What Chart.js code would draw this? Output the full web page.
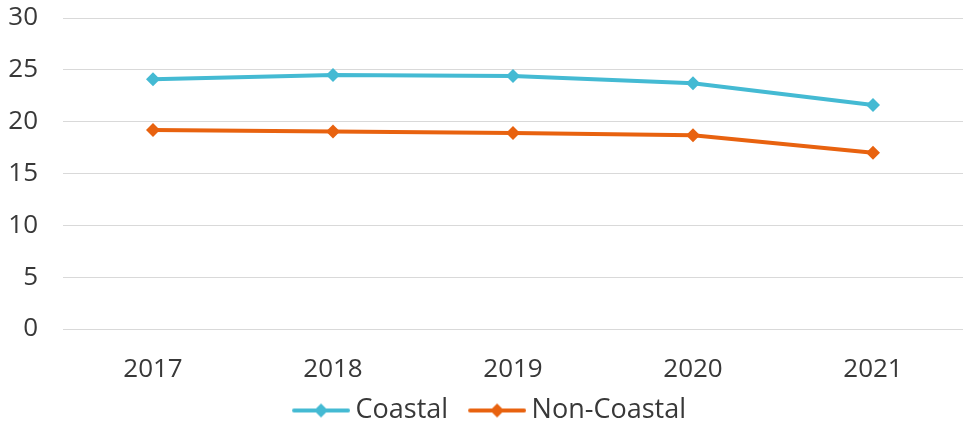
<!DOCTYPE html>
<html>
<head>
<meta charset="utf-8">
<script src="https://cdn.jsdelivr.net/npm/chart.js@4.4.1/dist/chart.umd.min.js"></script>
<style>
html,body{margin:0;padding:0;background:#fff;}
#wrap{width:970px;height:421px;position:relative;}
</style>
</head>
<body>
<div id="wrap"><canvas id="c" width="970" height="421"></canvas></div>
<script>
const categories = ['2017', '2018', '2019', '2020', '2021'];
const coastal = [24.1, 24.5, 24.4, 23.7, 21.6];
const nonCoastal = [19.2, 19.05, 18.9, 18.7, 17.0];
const yTicks = [0, 5, 10, 15, 20, 25, 30];

const COASTAL_COLOR = '#44BAD3';
const NONCOASTAL_COLOR = '#E8620F';
const TEXT_COLOR = '#383838';
const FONT = 'Open Sans';
const FONT_SIZE = 26;

function legendIcon(color) {
  const cv = document.createElement('canvas');
  cv.width = 78; cv.height = 16;
  const ctx = cv.getContext('2d');
  ctx.strokeStyle = color;
  ctx.lineWidth = 4;
  ctx.lineCap = 'round';
  ctx.beginPath();
  ctx.moveTo(22, 8); ctx.lineTo(76, 8);
  ctx.stroke();
  ctx.fillStyle = color;
  ctx.beginPath();
  ctx.moveTo(49, 1); ctx.lineTo(56, 8); ctx.lineTo(49, 15); ctx.lineTo(42, 8);
  ctx.closePath();
  ctx.fill();
  return cv;
}

const icons = [legendIcon(COASTAL_COLOR), legendIcon(NONCOASTAL_COLOR)];

new Chart(document.getElementById('c'), {
  type: 'line',
  data: {
    labels: categories,
    datasets: [
      {
        label: 'Coastal',
        data: coastal,
        borderColor: COASTAL_COLOR,
        backgroundColor: COASTAL_COLOR,
        borderWidth: 4,
        pointStyle: 'rectRot',
        pointRadius: 7,
        pointBorderWidth: 0,
        tension: 0
      },
      {
        label: 'Non-Coastal',
        data: nonCoastal,
        borderColor: NONCOASTAL_COLOR,
        backgroundColor: NONCOASTAL_COLOR,
        borderWidth: 4,
        pointStyle: 'rectRot',
        pointRadius: 7,
        pointBorderWidth: 0,
        tension: 0
      }
    ]
  },
  options: {
    responsive: false,
    animation: false,
    devicePixelRatio: 1,
    layout: { padding: { top: 18, right: 4, left: 0, bottom: -13 } },
    plugins: {
      tooltip: { enabled: false },
      legend: {
        position: 'bottom',
        labels: {
          usePointStyle: true,
          pointStyleWidth: 62,
          padding: 8,
          color: TEXT_COLOR,
          font: { family: FONT, size: 27 },
          generateLabels(chart) {
            return chart.data.datasets.map((ds, i) => ({
              text: ds.label,
              pointStyle: icons[i],
              fillStyle: ds.borderColor,
              strokeStyle: ds.borderColor,
              lineWidth: 0,
              fontColor: TEXT_COLOR,
              hidden: false,
              datasetIndex: i
            }));
          }
        }
      }
    },
    scales: {
      x: {
        offset: true,
        grid: { display: false },
        border: { display: false },
        afterFit(axis) { axis.height = 60; },
        ticks: { color: TEXT_COLOR, font: { family: FONT, size: FONT_SIZE }, padding: 17 }
      },
      y: {
        min: 0,
        max: 30,
        afterBuildTicks(axis) { axis.ticks = yTicks.map(v => ({ value: v })); },
        afterFit(axis) { axis.width = 63; axis.paddingTop = 0; axis.paddingBottom = 0; },
        grid: { color: '#D9D9D9', lineWidth: 1, drawTicks: false },
        border: { display: false },
        ticks: { color: TEXT_COLOR, font: { family: FONT, size: FONT_SIZE }, padding: 25 }
      }
    }
  }
});
</script>
</body>
</html>
